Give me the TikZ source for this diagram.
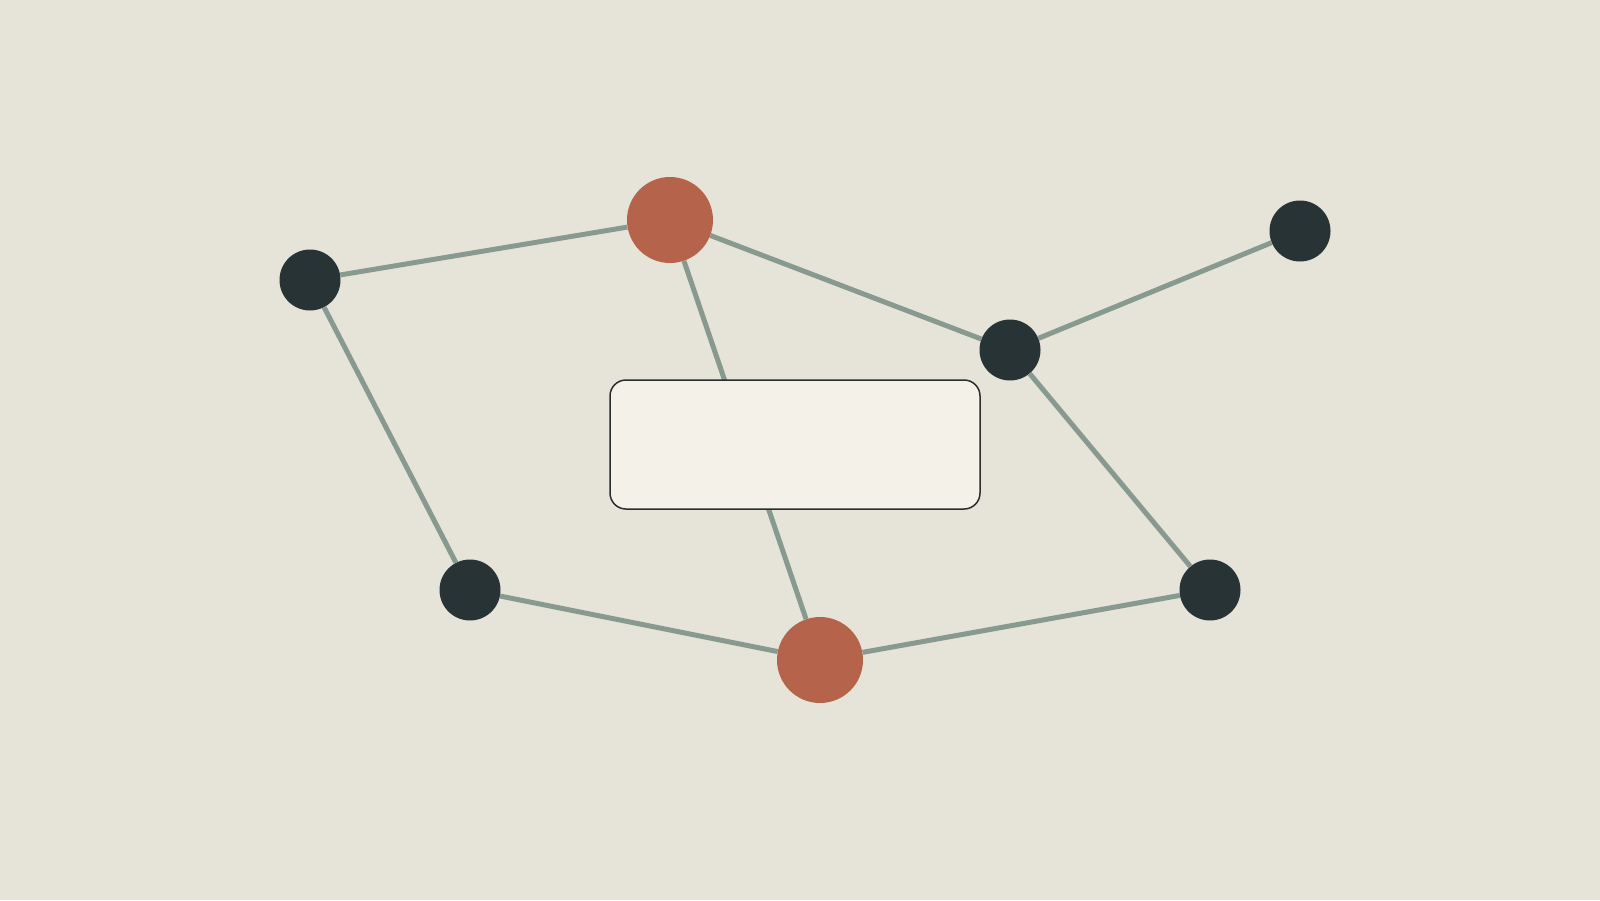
\documentclass[tikz,border=0pt]{standalone}
\definecolor{bg}{HTML}{E6E4D9}
\definecolor{edgec}{HTML}{889990}
\definecolor{darkn}{HTML}{283335}
\definecolor{orangen}{HTML}{B5644B}
\definecolor{boxfill}{HTML}{F4F1E8}
\definecolor{boxline}{HTML}{2A2E2E}
\begin{document}
\begin{tikzpicture}[x=1pt,y=-1pt,
  dnode/.style={circle,fill=darkn,minimum size=61pt,inner sep=0pt},
  onode/.style={circle,fill=orangen,minimum size=86pt,inner sep=0pt},
  link/.style={draw=edgec,line width=5pt},
  panel/.style={draw=boxline,fill=boxfill,line width=1.5pt,rounded corners=16pt,minimum width=370pt,minimum height=129pt,inner sep=0pt}]
\fill[bg] (0,0) rectangle (1600,900);
\useasboundingbox (0,0) rectangle (1600,900);
\node[dnode] (a) at (310,280) {};
\node[onode] (b) at (670,220) {};
\node[dnode] (c) at (1300,231) {};
\node[dnode] (d) at (1010,350) {};
\node[dnode] (e) at (470,590) {};
\node[onode] (f) at (820,660) {};
\node[dnode] (g) at (1210,590) {};
\path[link] (a) -- (b);
\path[link] (b) -- (d);
\path[link] (d) -- (c);
\path[link] (a) -- (e);
\path[link] (e) -- (f);
\path[link] (f) -- (g);
\path[link] (d) -- (g);
\path[link] (b) -- (f);
\node[panel] (box) at (795,444.5) {};
\end{tikzpicture}
\end{document}
